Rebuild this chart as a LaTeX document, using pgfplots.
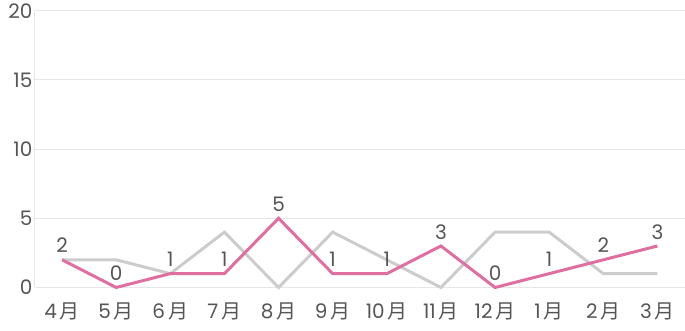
\documentclass[border=0pt]{standalone}
\usepackage{fontspec}
\setmainfont{Poppins}
\newfontfamily\cjk{Noto Sans CJK JP}
\usepackage{pgfplots}
\pgfplotsset{compat=1.18}
\definecolor{pinkline}{HTML}{DE6FA0}
\definecolor{grayline}{HTML}{CCCCCC}
\definecolor{gridc}{HTML}{E6E6E6}
\definecolor{txt}{HTML}{555555}
\newcommand{\mo}[1]{#1\hspace{3pt}{\cjk 月}}
\begin{document}
\begin{tikzpicture}
\path (-35pt,-43pt) rectangle (650pt,287pt);
\begin{axis}[
  at={(0,0)}, anchor=south west,
  scale only axis, width=650pt, height=277pt,
  xmin=-0.5, xmax=11.5, ymin=0, ymax=20,
  axis line style={draw=none},
  ytick={0,5,10,15,20},
  xtick={0,...,11},
  xticklabels={\mo{4},\mo{5},\mo{6},\mo{7},\mo{8},\mo{9},\mo{10},\mo{11},\mo{12},\mo{1},\mo{2},\mo{3}},
  ymajorgrids, grid style={gridc, line width=1pt},
  major tick length=0pt,
  tick label style={font=\fontsize{20}{24}\selectfont, text=txt},
  /pgf/number format/assume math mode=true,
  yticklabel style={xshift=1pt},
  xticklabel style={yshift=-12pt},
  clip=false,
]
\draw[gridc, line width=1pt] (axis cs:-0.5,0) -- (axis cs:-0.5,20);
\addplot[grayline, line width=3pt] coordinates {(0,2)(1,2)(2,1)(3,4)(4,0)(5,4)(6,2)(7,0)(8,4)(9,4)(10,1)(11,1)};
\addplot[pinkline, line width=3pt, nodes near coords, every node near coord/.append style={text=txt, font=\fontsize{20}{24}\selectfont, yshift=2pt}] coordinates {(0,2)(1,0)(2,1)(3,1)(4,5)(5,1)(6,1)(7,3)(8,0)(9,1)(10,2)(11,3)};
\end{axis}
\end{tikzpicture}
\end{document}
